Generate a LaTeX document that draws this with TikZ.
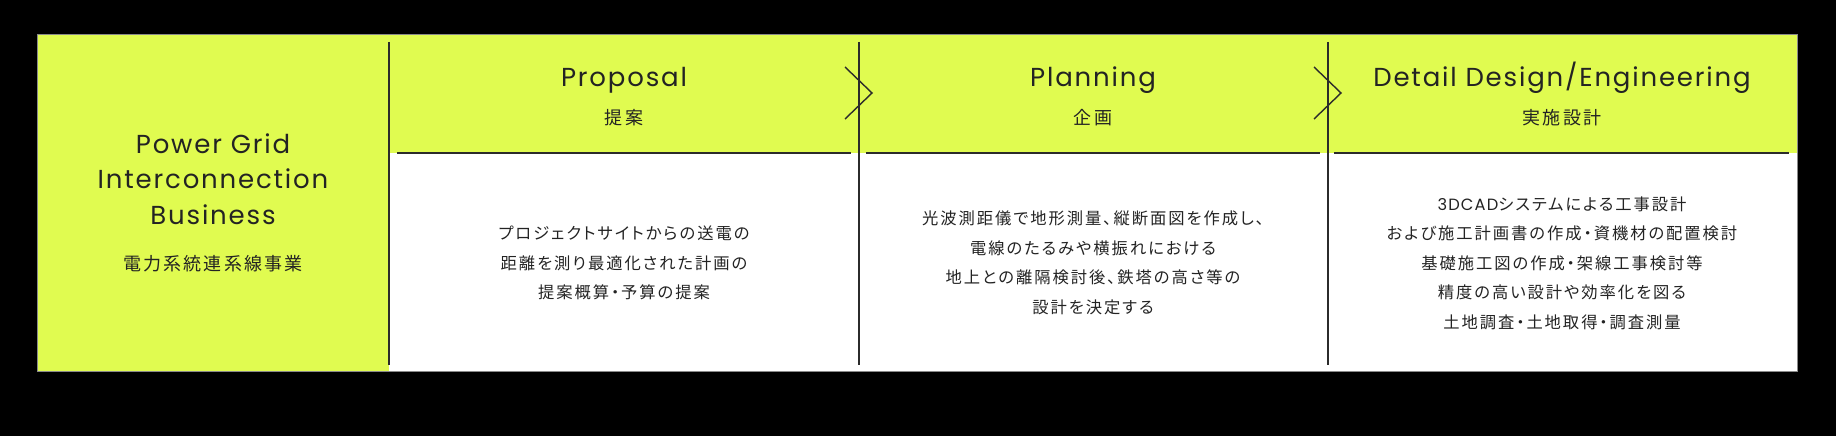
\documentclass[tikz,border=0pt]{standalone}
\usepackage{fontspec}
\setmainfont{Poppins}[LetterSpace=7]
\newfontfamily\jpfont{Noto Sans CJK JP}[LetterSpace=12,RawFeature=+palt]
\definecolor{pgLime}{HTML}{E0FB50}
\definecolor{pgInk}{HTML}{232323}
\definecolor{pgRule}{HTML}{2B2B2B}
\definecolor{pgEdge}{HTML}{8A8A8A}
\tikzset{
  phaseTitle/.style={font=\fontsize{26}{30}\selectfont, text=pgInk, anchor=base, inner sep=0pt},
  phaseSub/.style={font=\jpfont\fontsize{18}{22}\selectfont, text=pgInk, anchor=base, inner sep=0pt},
  phaseBody/.style={font=\jpfont\fontsize{16.3}{29.5}\selectfont, text=pgInk, align=center, inner sep=0pt},
  businessTitle/.style={font=\fontsize{26}{35.5}\selectfont, text=pgInk, align=center, inner sep=0pt},
  divider/.style={draw=pgRule, line width=1.4pt},
  headRule/.style={draw=pgRule, line width=1.4pt},
  chevron/.style={draw=pgRule, line width=1.4pt, line join=miter},
}
\begin{document}
\begin{tikzpicture}[x=1pt,y=-1pt]
  \fill[black] (0,0) rectangle (1836,436);
  \fill[pgLime] (37,34) rectangle (389,371);
  \fill[pgLime] (389,34) rectangle (1797,153);
  \fill[white] (389,153) rectangle (1797,371);
  \draw[pgEdge, line width=0.8pt] (37,34) rectangle (1797,371);

  % column dividers and step chevrons
  \foreach \x/\n in {389/first,859/second,1328/third} {
    \coordinate (\n Top) at (\x,42);
    \coordinate (\n Bottom) at (\x,365);
    \draw[divider] (\n Top) -- (\n Bottom);
  }
  \foreach \x in {859,1328}
    \draw[chevron] (\x-14,67) -- (\x+13,93) -- (\x-14,119);

  % header rules
  \draw[headRule] (397,153) -- (851,153);
  \draw[headRule] (866,153) -- (1320,153);
  \draw[headRule] (1334,153) -- (1789,153);

  \node[businessTitle] (business) at (213,179)
    {Power Grid\\Interconnection\\Business};
  \node[phaseSub] (businessJa) at (213,270) {電力系統連系線事業};

  \node[phaseTitle] (proposal) at (624,86.5) {Proposal};
  \node[phaseSub] (proposalJa) at (624,124) {提案};
  \node[phaseTitle] (planning) at (1093,86.5) {Planning};
  \node[phaseSub] (planningJa) at (1093,124) {企画};
  \node[phaseTitle] (detail) at (1562,86.5) {Detail Design/Engineering};
  \node[phaseSub] (detailJa) at (1562,124) {実施設計};

  \node[phaseBody] (proposalBody) at (624,263)
    {プロジェクトサイトからの送電の\\距離を測り最適化された計画の\\提案概算・予算の提案};
  \node[phaseBody] (planningBody) at (1093,263)
    {光波測距儀で地形測量、縦断面図を作成し、\\電線のたるみや横振れにおける\\地上との離隔検討後、鉄塔の高さ等の\\設計を決定する};
  \node[phaseBody] (detailBody) at (1562,263)
    {{\rmfamily 3DCAD}システムによる工事設計\\および施工計画書の作成・資機材の配置検討\\基礎施工図の作成・架線工事検討等\\精度の高い設計や効率化を図る\\土地調査・土地取得・調査測量};
\end{tikzpicture}
\end{document}
